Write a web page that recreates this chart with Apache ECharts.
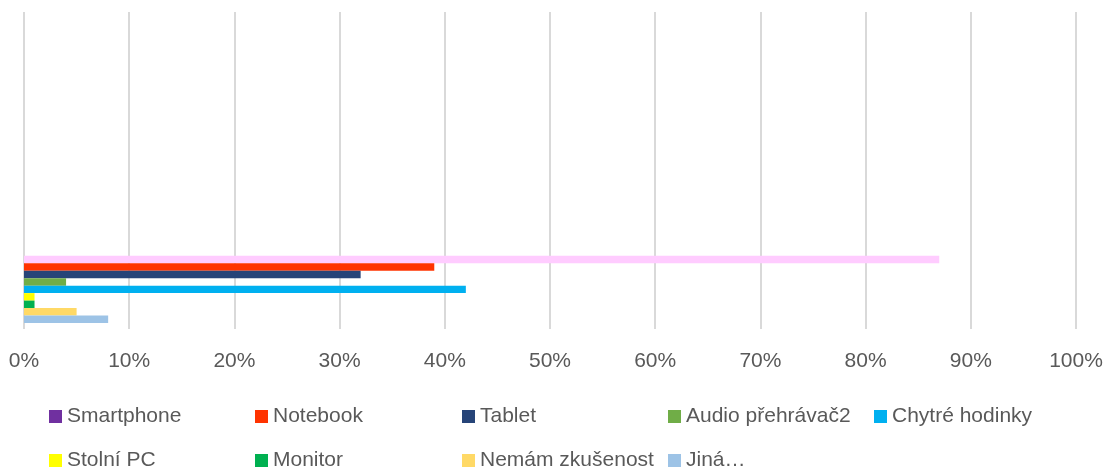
<!DOCTYPE html>
<html>
<head>
<meta charset="utf-8">
<script src="https://cdn.jsdelivr.net/npm/echarts@6/dist/echarts.min.js"></script>
<style>
  html, body { margin: 0; padding: 0; background: #fff; }
  #chart { width: 1106px; height: 468px; }
</style>
</head>
<body>
<div id="chart"></div>
<script>
// Device types and the share of respondents (%)
const seriesNames = ['Smartphone', 'Notebook', 'Tablet', 'Audio přehrávač2', 'Chytré hodinky',
                     'Stolní PC', 'Monitor', 'Nemám zkušenost', 'Jiná…'];
const seriesValues = [87, 39, 32, 4, 42, 1, 1, 5, 8];
// Category slots on the vertical axis; only the first one holds answers
const categories = ['1', '2', '3', '4'];
const tickValues = [0, 10, 20, 30, 40, 50, 60, 70, 80, 90, 100];

// Series colours (legend swatch) and the bar fill of the first series
const palette = ['#7030A0', '#FF3300', '#264478', '#70AD47', '#00B0F0',
                 '#FFFF00', '#00B050', '#FFD966', '#9DC3E6'];
const barFillOverride = { 0: '#FFCCFF' };

// Legend swatch positions (two rows)
const legendLeft = [49, 255, 462, 668, 874, 49, 255, 462, 668];
const legendTop  = [406, 406, 406, 406, 406, 450, 450, 450, 450];

const textColor = '#595959';
const fontFamily = 'Liberation Sans, Arial, sans-serif';
const fontSize = 21;

const series = seriesNames.map((name, i) => {
  const first = { value: seriesValues[i] };
  if (barFillOverride[i]) first.itemStyle = { color: barFillOverride[i] };
  const data = categories.map((c, k) => (k === 0 ? first : '-'));
  return {
    name,
    type: 'bar',
    data,
    barGap: '0%',
    barCategoryGap: '15%',
    itemStyle: { color: palette[i] },
    animation: false
  };
});

const legends = seriesNames.map((name, i) => ({
  data: [name],
  left: legendLeft[i],
  top: legendTop[i],
  padding: 0,
  icon: 'rect',
  itemWidth: 13,
  itemHeight: 13,
  itemGap: 6,
  selectedMode: false,
  textStyle: { color: textColor, fontSize, fontFamily, padding: [0, 0, 0, 0] }
}));

const chart = echarts.init(document.getElementById('chart'), null, { renderer: 'canvas' });
chart.setOption({
  backgroundColor: '#ffffff',
  animation: false,
  grid: { left: 24, right: 30, top: 12, bottom: 139, containLabel: false },
  xAxis: {
    type: 'value',
    min: tickValues[0],
    max: tickValues[tickValues.length - 1],
    interval: 10,
    axisLine: { show: false },
    axisTick: { show: false },
    splitLine: { show: true, lineStyle: { color: '#d9d9d9', width: 2 } },
    axisLabel: {
      formatter: '{value}%',
      color: textColor,
      fontSize,
      fontFamily,
      margin: 22
    }
  },
  yAxis: {
    type: 'category',
    data: categories,
    axisLine: { show: false },
    axisTick: { show: false },
    axisLabel: { show: false },
    splitLine: { show: false }
  },
  legend: legends,
  series
});
</script>
</body>
</html>
